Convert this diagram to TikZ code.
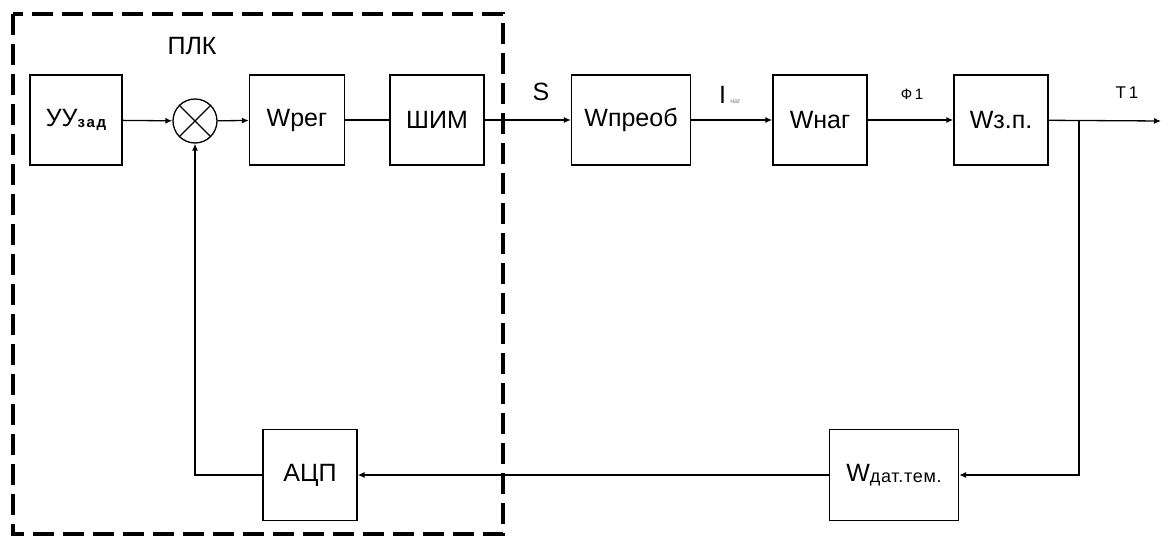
\documentclass[tikz,border=0pt]{standalone}
\usepackage{fontspec}
\setmainfont{Liberation Sans}
\usetikzlibrary{arrows.meta}
\begin{document}
\begin{tikzpicture}[x=1pt,y=-1pt,
  blk/.style={draw,line width=1.3pt,minimum width=#1,minimum height=90pt,inner sep=0pt,font=\fontsize{25}{28}\selectfont},
  blk/.default=94pt,
  conn/.style={line width=1.3pt},
  arr/.style={conn,-{Latex[length=7pt,width=6pt]}},
  lbl/.style={inner sep=0pt,font=\fontsize{25}{28}\selectfont}]
\useasboundingbox (0,0) rectangle (1168,540);
% PLC dashed frame
\draw[line width=3.5pt,dash pattern=on 21pt off 9pt] (13,14) rectangle (503,534);
\node[lbl] (plk) at (192,46) {ПЛК};
% blocks
\node[blk=92pt] (uu) at (76,120) {УУ\raisebox{-1pt}{\fontsize{15}{16}\selectfont\bfseries\addfontfeature{LetterSpace=12}зад}};
\node[draw,circle,line width=1.3pt,minimum size=44pt,inner sep=0pt] (sum) at (195,121) {};
\draw[conn] (sum.north west) -- (sum.south east) (sum.north east) -- (sum.south west);
\node[blk=95pt] (wreg) at (297,120) {Wрег};
\node[blk=94pt] (shim) at (437,120) {ШИМ};
\node[blk=119pt] (wpr) at (631,120) {Wпреоб};
\node[blk=94pt] (wnag) at (820,120) {Wнаг};
\node[blk=94pt] (wzp) at (1001,120) {Wз.п.};
\node[blk=94pt,minimum height=91pt] (adc) at (310,475) {АЦП};
\node[blk=129pt,minimum height=91pt] (wdat) at (894,475) {W\raisebox{-1pt}{\fontsize{18}{20}\selectfont\addfontfeature{LetterSpace=4}дат.тем.}};
% signal labels
\node[lbl] (s) at (541,92) {S};
\node[lbl,anchor=west] (inag) at (719,95) {I\,{\fontsize{7}{7}\selectfont\color{gray}наг}};
\node[inner sep=0pt,font=\fontsize{15}{16}\selectfont] (phi) at (912,94) {Ф\,1};
\node[inner sep=0pt,font=\fontsize{17}{18}\selectfont] (t1) at (1127,93) {Т\,1};
% connectors
\coordinate (br) at (1079,121);
\coordinate (out) at (1161,121);
\draw[arr] (uu) -- (sum);
\draw[arr] (sum) -- (wreg);
\draw[conn] (wreg) -- (shim);
\draw[arr] (shim) -- (wpr);
\draw[arr] (wpr) -- (wnag);
\draw[arr] (wnag) -- (wzp);
\draw[arr] (wzp) -- (out);
\draw[arr] (br) |- (wdat.east);
\draw[arr] (wdat) -- (adc);
\draw[arr] (adc.west) -| (sum.south);
\end{tikzpicture}
\end{document}
